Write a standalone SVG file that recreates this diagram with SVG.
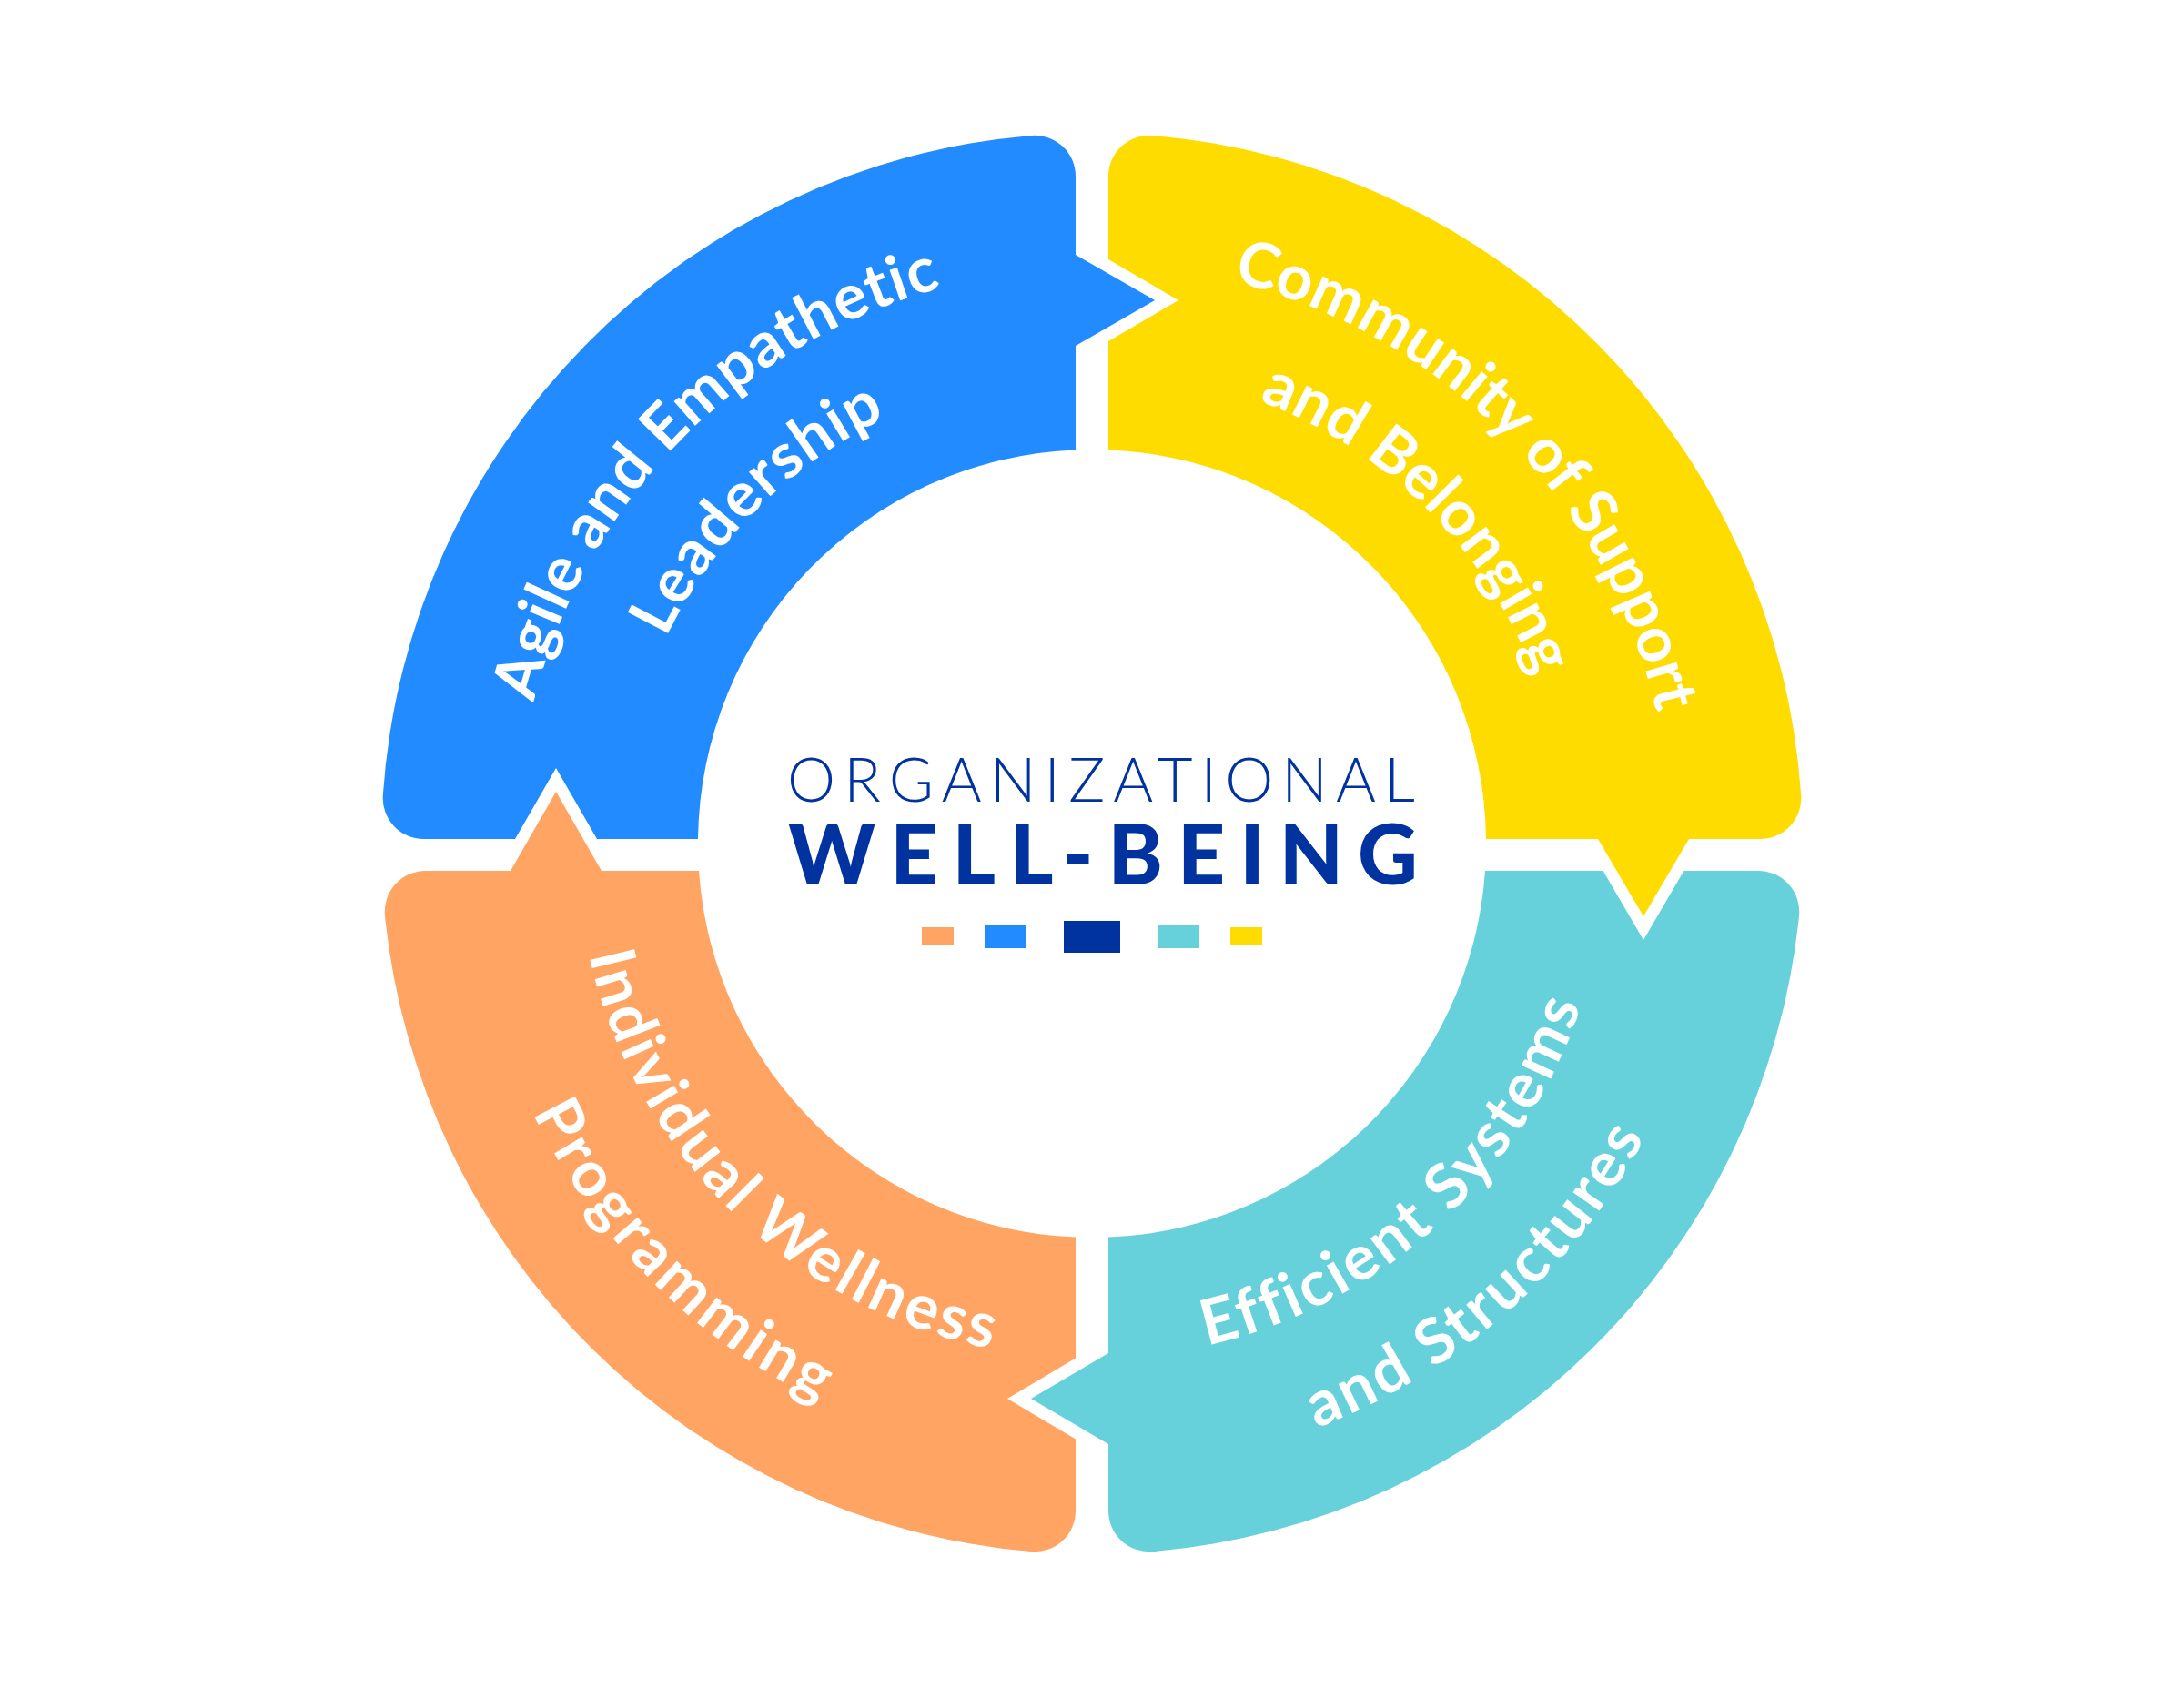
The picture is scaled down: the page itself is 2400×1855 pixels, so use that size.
<svg xmlns="http://www.w3.org/2000/svg" width="2400" height="1855" viewBox="0 0 2400 1855">
  <style>
    .seg-blue { fill: #218BFF; }
    .seg-yellow { fill: #FFDC00; }
    .seg-teal { fill: #66D1DB; }
    .seg-orange { fill: #FFA462; }
    .label { font-family: Lato, "Open Sans", "Liberation Sans", sans-serif; font-weight: 700; font-size: 69px; fill: #FFFFFF; font-variant-ligatures: none; }
    .title { font-family: Lato, "Open Sans", "Liberation Sans", sans-serif; fill: #0033A0; }
  </style>
  <defs>
    <path id="arc-blue-outer" d="M628.7,1199.5 A633,633 0 0 1 1462.5,351.0"/>
    <path id="arc-blue-inner" d="M728.7,1146.8 A520,520 0 0 1 1419.8,455.7"/>
    <path id="arc-yellow-outer" d="M935.8,347.3 A637,637 0 0 1 1775.0,1201.2"/>
    <path id="arc-yellow-inner" d="M980.2,455.7 A520,520 0 0 1 1671.3,1146.8"/>
    <path id="arc-teal-inner" d="M936.9,1428.1 A566,566 0 0 0 1723.7,712.2"/>
    <path id="arc-teal-outer" d="M871.7,1531.6 A688,688 0 0 0 1840.1,674.8"/>
    <path id="arc-orange-inner" d="M684.5,693.2 A566,566 0 0 0 1444.6,1437.4"/>
    <path id="arc-orange-outer" d="M582.9,636.6 A682,682 0 0 0 1486.1,1546.1"/>
  </defs>
  <rect x="0" y="0" width="2400" height="1855" fill="#FFFFFF"/>

  <g id="node-blue">
    <path class="seg-blue" d="M1182,494.4 L1182,380 L1269,330 L1182,280 L1182,193.7 A45,45 0 0 0 1133.2,148.9 A781,781 0 0 0 420.8,873.9 A45,45 0 0 0 465.7,922 L566,922 L611,844 L656,922 L767,922 A433,433 0 0 1 1182,494.4 Z"/>
    <text class="label"><textPath href="#arc-blue-outer" startOffset="50%" text-anchor="middle" textLength="670" lengthAdjust="spacing">Agile and Empathetic</textPath></text>
    <text class="label"><textPath href="#arc-blue-inner" startOffset="50%" text-anchor="middle" textLength="349" lengthAdjust="spacing">Leadership</textPath></text>
  </g>

  <g id="node-yellow">
    <path class="seg-yellow" d="M1218,494.4 L1218,375 L1295,330 L1218,285 L1218,193.7 A45,45 0 0 1 1266.8,148.9 A781,781 0 0 1 1979.2,873.9 A45,45 0 0 1 1934.3,922 L1856,922 L1806,1007 L1756,922 L1633,922 A433,433 0 0 0 1218,494.4 Z"/>
    <text class="label"><textPath href="#arc-yellow-outer" startOffset="50%" text-anchor="middle" textLength="700" lengthAdjust="spacing">Community of Support</textPath></text>
    <text class="label"><textPath href="#arc-yellow-inner" startOffset="50%" text-anchor="middle" textLength="442" lengthAdjust="spacing">and Belonging</textPath></text>
  </g>

  <g id="node-teal">
    <path class="seg-teal" d="M1218,1359.6 L1218,1487 L1133,1537 L1218,1587 L1218,1660.3 A45,45 0 0 0 1266.8,1705.1 A781,781 0 0 0 1977,1006.6 A45,45 0 0 0 1932.2,957 L1850.4,957 L1806,1033 L1761.6,957 L1632,957 A433,433 0 0 1 1218,1359.6 Z"/>
    <text class="label"><textPath href="#arc-teal-inner" startOffset="50%" text-anchor="middle" textLength="581" lengthAdjust="spacing">Efficient Systems</textPath></text>
    <text class="label"><textPath href="#arc-teal-outer" startOffset="50%" text-anchor="middle" textLength="492" lengthAdjust="spacing">and Structures</textPath></text>
  </g>

  <g id="node-orange">
    <path class="seg-orange" d="M768,957 L661,957 L611,870 L561,957 L467.8,957 A45,45 0 0 0 423,1006.6 A781,781 0 0 0 1133.2,1705.1 A45,45 0 0 0 1182,1660.3 L1182,1581.4 L1107,1537 L1182,1492.6 L1182,1359.6 A433,433 0 0 1 768,957 Z"/>
    <text class="label"><textPath href="#arc-orange-inner" startOffset="50%" text-anchor="middle" textLength="654" lengthAdjust="spacing">Individual Wellness</textPath></text>
    <text class="label"><textPath href="#arc-orange-outer" startOffset="50%" text-anchor="middle" textLength="455" lengthAdjust="spacing">Programming</textPath></text>
  </g>

  <g id="node-center">
    <text class="title" x="865" y="881" font-weight="300" font-size="67" textLength="690" lengthAdjust="spacing">ORGANIZATIONAL</text>
    <text class="title" x="866" y="972" font-weight="900" font-size="91" textLength="692" lengthAdjust="spacing">WELL-BEING</text>
    <rect x="1013" y="1019" width="35" height="20" fill="#FFA462"/>
    <rect x="1082" y="1016" width="46" height="26" fill="#218BFF"/>
    <rect x="1169" y="1012" width="62" height="35" fill="#0033A0"/>
    <rect x="1272" y="1016" width="46" height="26" fill="#66D1DB"/>
    <rect x="1352" y="1019" width="35" height="20" fill="#FFDC00"/>
  </g>

  <g id="connectors"/>
</svg>
